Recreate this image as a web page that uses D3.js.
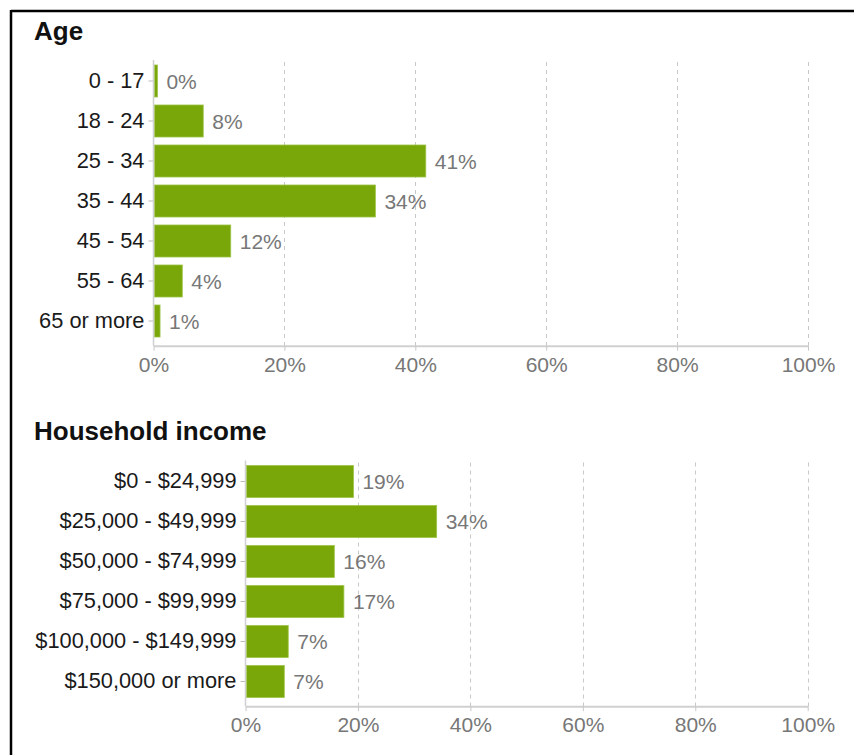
<!DOCTYPE html>
<html>
<head>
<meta charset="utf-8">
<script src="https://cdn.jsdelivr.net/npm/d3@7"></script>
<style>
  html, body { margin: 0; padding: 0; background: #fff; }
  svg { display: block; font-family: "Liberation Sans", Arial, Helvetica, sans-serif; }
</style>
</head>
<body>
<svg id="chart" width="854" height="755"></svg>
<script>
// ---- Data ----
const ageCategories = ["0 - 17", "18 - 24", "25 - 34", "35 - 44", "45 - 54", "55 - 64", "65 or more"];
const ageValues = [0.6, 7.6, 41.6, 33.9, 11.8, 4.4, 1.0];
const ageLabels = ["0%", "8%", "41%", "34%", "12%", "4%", "1%"];

const incomeCategories = ["$0 - $24,999", "$25,000 - $49,999", "$50,000 - $74,999", "$75,000 - $99,999", "$100,000 - $149,999", "$150,000 or more"];
const incomeValues = [19.2, 34.0, 15.8, 17.5, 7.6, 6.9];
const incomeLabels = ["19%", "34%", "16%", "17%", "7%", "7%"];

const xTicks = [0, 20, 40, 60, 80, 100];
const xTickLabels = ["0%", "20%", "40%", "60%", "80%", "100%"];

// ---- Drawing ----
const svg = d3.select("#chart");
const BAR = "#79a70a";
const FONT = 21;
const CAT_FONT = 21.8;

// frame (top and left border)
svg.append("line").attr("x1", 11).attr("x2", 854).attr("y1", 11).attr("y2", 11)
  .attr("stroke", "#000").attr("stroke-width", 2.5);
svg.append("line").attr("x1", 11).attr("x2", 11).attr("y1", 10).attr("y2", 755)
  .attr("stroke", "#000").attr("stroke-width", 2.5);

function drawChart(cfg) {
  const g = svg.append("g");
  const data = cfg.categories.map((c, i) => ({ cat: c, value: cfg.values[i], label: cfg.labels[i] }));

  const x = d3.scaleLinear().domain([0, 100]).range([cfg.x0, cfg.x1]);
  const y = d3.scaleBand().domain(cfg.categories).range([cfg.y0, cfg.y1])
    .paddingInner(0.2).paddingOuter(0.1);
  const axisY = cfg.y1 + 4.7;
  const topY = cfg.y0 - 1;

  // title
  g.append("text").attr("x", 34).attr("y", cfg.titleY)
    .attr("font-size", 26).attr("font-weight", "bold").attr("fill", "#111")
    .text(cfg.title);

  // gridlines
  g.append("g").selectAll("line").data(xTicks.filter(t => t > 0)).join("line")
    .attr("x1", d => Math.round(x(d)) + 0.5).attr("x2", d => Math.round(x(d)) + 0.5)
    .attr("y1", topY + 2).attr("y2", axisY)
    .attr("stroke", "#c8c8c8").attr("stroke-width", 1).attr("stroke-dasharray", "4,4");

  // x axis
  const xAxis = d3.axisBottom(x).tickValues(xTicks)
    .tickFormat((d, i) => xTickLabels[i]).tickSize(5).tickSizeOuter(0).tickPadding(6);
  const xa = g.append("g").attr("transform", `translate(0,${axisY})`).call(xAxis);
  xa.select(".domain").attr("stroke", "#d0d0d0").attr("stroke-width", 2);
  xa.selectAll(".tick line").attr("stroke", "#c8c8c8");
  xa.selectAll(".tick text").attr("fill", "#777").attr("font-size", FONT)
    .attr("font-family", "'Liberation Sans', Arial, sans-serif");

  // bars
  g.append("g").selectAll("rect").data(data).join("rect")
    .attr("x", x(0) + 1)
    .attr("y", d => y(d.cat))
    .attr("width", d => Math.max(0, x(d.value) - x(0) - 1))
    .attr("height", y.bandwidth())
    .attr("fill", BAR)
    .attr("stroke", "#9cc447").attr("stroke-width", 0.8);

  // value labels
  g.append("g").selectAll("text").data(data).join("text")
    .attr("x", d => x(d.value) + 9)
    .attr("y", d => y(d.cat) + y.bandwidth() / 2)
    .attr("dy", "0.38em")
    .attr("font-size", FONT).attr("fill", "#777")
    .text(d => d.label);

  // y axis
  const yAxis = d3.axisLeft(y).tickSize(5).tickSizeOuter(0).tickPadding(4);
  const ya = g.append("g").attr("transform", `translate(${x(0)},0)`).call(yAxis);
  ya.select(".domain").remove();
  ya.selectAll(".tick line").attr("stroke", "#bbb");
  ya.selectAll(".tick text").attr("fill", "#1a1a1a").attr("font-size", CAT_FONT)
    .attr("font-family", "'Liberation Sans', Arial, sans-serif");
  g.append("line").attr("x1", x(0)).attr("x2", x(0)).attr("y1", topY).attr("y2", axisY)
    .attr("stroke", "#d0d0d0").attr("stroke-width", 1.5);
}

drawChart({
  title: "Age", titleY: 40,
  categories: ageCategories, values: ageValues, labels: ageLabels,
  x0: 153.5, x1: 808, y0: 61, y1: 341
});

drawChart({
  title: "Household income", titleY: 440,
  categories: incomeCategories, values: incomeValues, labels: incomeLabels,
  x0: 245.5, x1: 807.7, y0: 461.5, y1: 701.5
});
</script>
</body>
</html>
